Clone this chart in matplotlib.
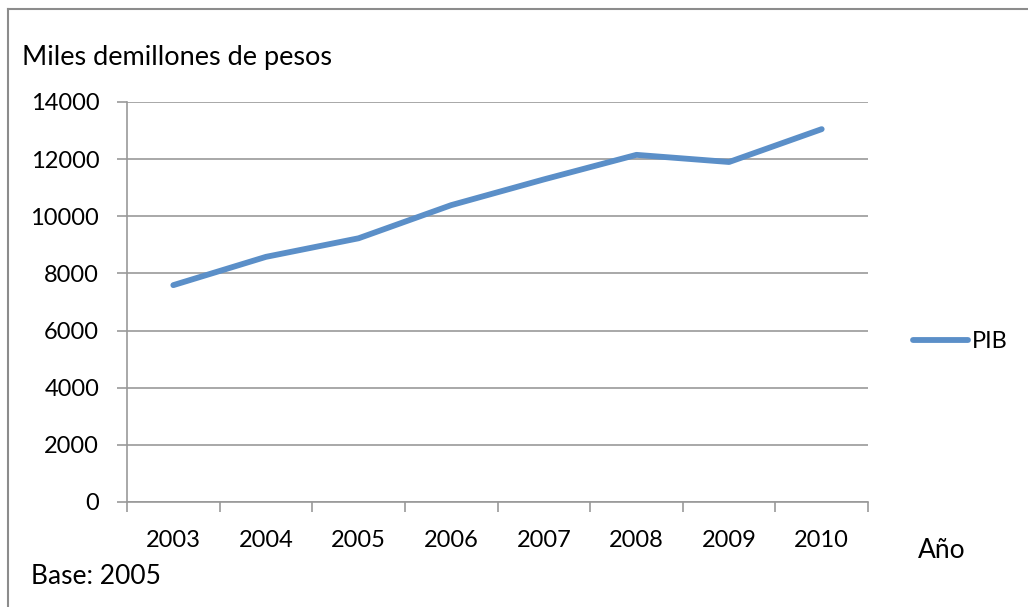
import numpy as np
import matplotlib.pyplot as plt
from matplotlib.lines import Line2D

plt.rcParams['font.family'] = ['Lato', 'DejaVu Sans']

years = ['2003', '2004', '2005', '2006', '2007', '2008', '2009', '2010']
pib = [7590, 8580, 9230, 10390, 11290, 12150, 11900, 13050]
yticks = [0, 2000, 4000, 6000, 8000, 10000, 12000, 14000]

W, H = 1028, 607
fig = plt.figure(figsize=(W / 100, H / 100), dpi=100)
ax = fig.add_axes([127 / W, 1 - 502 / H, (868 - 127) / W, (502 - 102) / H])

x = np.arange(len(years))
ax.plot(x, pib, color='#5B8FC8', lw=4.2, solid_capstyle='round',
        solid_joinstyle='round', label='PIB', zorder=3)

ax.set_xlim(-0.5, len(years) - 0.5)
ax.set_ylim(0, 14000)
ax.set_yticks(yticks)
ax.set_yticklabels([str(v) for v in yticks], fontsize=17)
ax.set_xticks(np.arange(-0.5, len(years)))
ax.set_xticklabels([])
ax.set_xticks(x, minor=True)
ax.set_xticklabels(years, minor=True, fontsize=17)
ax.tick_params(axis='x', which='minor', length=0, pad=20)
ax.tick_params(axis='x', which='major', length=7, color='#999999', width=1.2)
ax.tick_params(axis='y', length=7, color='#999999', width=1.2, pad=13)

ax.grid(axis='y', color='#999999', lw=1.2)
ax.set_axisbelow(True)
for s in ['top', 'right']:
    ax.spines[s].set_visible(False)
for s in ['left', 'bottom']:
    ax.spines[s].set_color('#999999')
    ax.spines[s].set_linewidth(1.2)

leg = fig.legend(loc='center left', bbox_to_anchor=(892 / W, 1 - 342 / H),
                 frameon=False, fontsize=17, handlelength=2.33,
                 handletextpad=0.15)

fig.text(22 / W, 1 - 57 / H, 'Miles demillones de pesos', fontsize=19.5,
         va='center', ha='left')
fig.text(918 / W, 1 - 550 / H, 'Año', fontsize=19, va='center', ha='left')
fig.text(31 / W, 1 - 577 / H, 'Base: 2005', fontsize=19, va='center', ha='left')

# outer chart border (only top and left visible)
fig.add_artist(Line2D([8 / W, 1], [1 - 9 / H, 1 - 9 / H], color='#8c8c8c', lw=1.5))
fig.add_artist(Line2D([8 / W, 8 / W], [0, 1 - 9 / H], color='#8c8c8c', lw=1.5))

fig.savefig('out.png', dpi=100)
